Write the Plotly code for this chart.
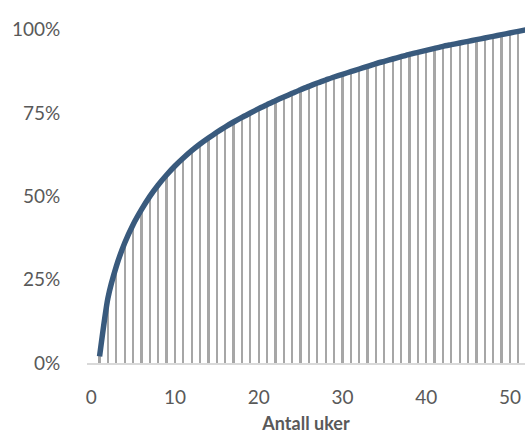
import plotly.graph_objects as go

# Weeks and cumulative share (%) reached by each week
weeks = list(range(1, 53))
cumulative_pct = [
    2.0, 19.5, 29.0, 36.0, 41.5, 46.0, 50.0, 53.4, 56.4, 59.1,
    61.5, 63.7, 65.7, 67.5, 69.2, 70.8, 72.3, 73.7, 75.0, 76.3,
    77.5, 78.7, 79.8, 80.9, 82.0, 83.0, 84.0, 84.9, 85.8, 86.6,
    87.4, 88.2, 89.0, 89.8, 90.5, 91.2, 91.9, 92.6, 93.2, 93.8,
    94.4, 95.0, 95.5, 96.0, 96.5, 97.0, 97.5, 98.0, 98.5, 99.0,
    99.5, 100.0,
]
x_ticks = [0, 10, 20, 30, 40, 50]
y_ticks = [0, 25, 50, 75, 100]
y_tick_labels = ["0%", "25%", "50%", "75%", "100%"]

FONT = "Lato, Carlito, 'Liberation Sans', sans-serif"
TEXT = "#595959"

fig = go.Figure()
fig.add_trace(go.Bar(
    x=weeks, y=cumulative_pct, width=0.26,
    marker=dict(color="#A6A6A6", line=dict(width=0)),
    showlegend=False, hoverinfo="skip",
))
fig.add_trace(go.Scatter(
    x=weeks, y=cumulative_pct, mode="lines",
    line=dict(color="#395A7D", width=5.5, shape="spline", smoothing=0.6),
    showlegend=False,
))

fig.update_layout(
    width=525, height=434,
    margin=dict(l=87, r=0, t=23, b=71),
    paper_bgcolor="white", plot_bgcolor="white",
    font=dict(family=FONT, size=19, color=TEXT),
    bargap=0,
)
fig.update_xaxes(
    range=[-0.5, 51.8], tickvals=x_ticks, showgrid=False, zeroline=False,
    showline=True, linecolor="#D9D9D9", linewidth=1.5,
    ticks="outside", ticklen=16, tickcolor="rgba(0,0,0,0)",
    tickfont=dict(family=FONT, size=19, color=TEXT),
    title=dict(text="<b>Antall uker</b>", font=dict(family=FONT, size=18, color=TEXT), standoff=12),
)
fig.update_yaxes(
    range=[0, 102], tickvals=y_ticks, ticktext=y_tick_labels,
    showgrid=False, zeroline=False, showline=False,
    ticks="outside", ticklen=22, tickcolor="rgba(0,0,0,0)",
    tickfont=dict(family=FONT, size=19, color=TEXT),
)

fig.write_html("out.html")
